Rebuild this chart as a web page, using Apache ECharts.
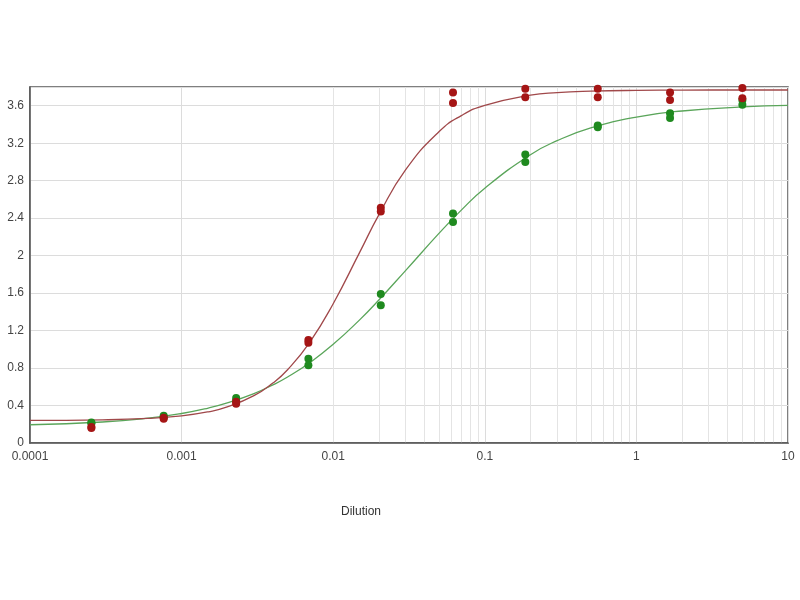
<!DOCTYPE html>
<html>
<head>
<meta charset="utf-8">
<script src="https://cdn.jsdelivr.net/npm/echarts@6/dist/echarts.min.js"></script>
<style>html,body{margin:0;padding:0;background:#fff}#c{width:800px;height:600px}</style>
</head>
<body>
<div id="c"></div>
<script>
// Dilution positions of the measured samples
var dilutions = [0.000254, 0.000762, 0.00229, 0.00686, 0.0206, 0.0617, 0.185, 0.556, 1.667, 5];
// Red sample replicates
var redRep1 = [0.17, 0.27, 0.44, 1.10, 2.51, 3.74, 3.78, 3.78, 3.74, 3.79];
var redRep2 = [0.16, 0.26, 0.42, 1.07, 2.47, 3.63, 3.69, 3.69, 3.66, 3.68];
// Green sample replicates
var greenRep1 = [0.22, 0.29, 0.48, 0.90, 1.59, 2.45, 3.08, 3.39, 3.52, 3.66];
var greenRep2 = [0.21, 0.28, 0.45, 0.83, 1.47, 2.36, 3.00, 3.37, 3.47, 3.61];
// Fitted curves
var curveX = [0.0001, 0.0003, 0.0006, 0.001, 0.0015, 0.002, 0.003, 0.004, 0.005, 0.007, 0.01, 0.015, 0.02, 0.03, 0.05, 0.07, 0.1, 0.2, 0.3, 0.5, 1, 2, 5, 10];
var redCurve = [0.241, 0.247, 0.262, 0.289, 0.333, 0.385, 0.505, 0.64, 0.782, 1.075, 1.487, 2.04, 2.435, 2.915, 3.325, 3.495, 3.605, 3.713, 3.74, 3.755, 3.764, 3.767, 3.768, 3.768];
var greenCurve = [0.195, 0.224, 0.265, 0.315, 0.373, 0.428, 0.528, 0.62, 0.704, 0.857, 1.053, 1.317, 1.526, 1.84, 2.24, 2.486, 2.72, 3.077, 3.227, 3.363, 3.479, 3.544, 3.587, 3.603];
var yTicks = [0, 0.4, 0.8, 1.2, 1.6, 2, 2.4, 2.8, 3.2, 3.6];

function pairs(xs, ys) { return xs.map(function (x, i) { return [x, ys[i]]; }); }

// minor vertical grid lines at 2..9 x 10^k
var minorLines = [];
for (var e = -4; e < 1; e++) {
  for (var m = 2; m <= 9; m++) {
    minorLines.push({ xAxis: parseFloat((m * Math.pow(10, e)).toPrecision(3)) });
  }
}

var chart = echarts.init(document.getElementById('c'), null, { renderer: 'canvas' });
var font = 'Liberation Sans, Arial, sans-serif';
chart.setOption({
  animation: false,
  backgroundColor: '#fff',
  grid: { left: 30, right: 12, top: 87, bottom: 157, show: true, borderColor: '#555', borderWidth: 1.5, containLabel: false },
  xAxis: {
    type: 'log', logBase: 10, min: 0.0001, max: 10,
    axisLine: { show: true, lineStyle: { color: '#555', width: 1.5 } },
    axisTick: { show: false },
    axisLabel: { color: '#444', fontSize: 12, fontFamily: font, margin: 8,
      formatter: function (v) { return String(parseFloat(Number(v).toPrecision(3))); } },
    splitLine: { show: true, lineStyle: { color: '#dcdcdc', width: 1 } },
    minorTick: { show: false }, minorSplitLine: { show: false }
  },
  yAxis: {
    type: 'value', min: 0, max: 3.8, interval: 0.4,
    axisLine: { show: true, lineStyle: { color: '#555', width: 1.5 } },
    axisTick: { show: false },
    axisLabel: { color: '#444', fontSize: 12, fontFamily: font, margin: 6, showMaxLabel: false,
      formatter: function (v) { return yTicks.indexOf(Math.round(v * 10) / 10) >= 0 ? String(Math.round(v * 10) / 10) : ''; } },
    splitLine: { show: true, lineStyle: { color: '#dcdcdc', width: 1 } }
  },
  graphic: [{
    type: 'text', left: 341, top: 506,
    style: { text: 'Dilution', fill: '#333', font: '12px Liberation Sans, Arial, sans-serif' }
  }],
  series: [
    { type: 'line', data: [], z: 0, silent: true,
      markLine: { silent: true, z: 0, symbol: ['none', 'none'], label: { show: false }, animation: false,
        lineStyle: { color: '#e4e4e4', type: 'solid', width: 1 }, data: minorLines } },
    { type: 'line', data: pairs(curveX, greenCurve), smooth: true, showSymbol: false, z: 10,
      lineStyle: { color: '#5aa55a', width: 1.3 } },
    { type: 'line', data: pairs(curveX, redCurve), smooth: true, showSymbol: false, z: 10,
      lineStyle: { color: '#a0484a', width: 1.3 } },
    { type: 'scatter', data: pairs(dilutions, greenRep1), symbolSize: 8, z: 12, itemStyle: { color: '#1f8a1f', opacity: 1 } },
    { type: 'scatter', data: pairs(dilutions, greenRep2), symbolSize: 8, z: 12, itemStyle: { color: '#1f8a1f', opacity: 1 } },
    { type: 'scatter', data: pairs(dilutions, redRep1), symbolSize: 8, z: 13, itemStyle: { color: '#a51515', opacity: 1 } },
    { type: 'scatter', data: pairs(dilutions, redRep2), symbolSize: 8, z: 13, itemStyle: { color: '#a51515', opacity: 1 } }
  ]
});
</script>
</body>
</html>
